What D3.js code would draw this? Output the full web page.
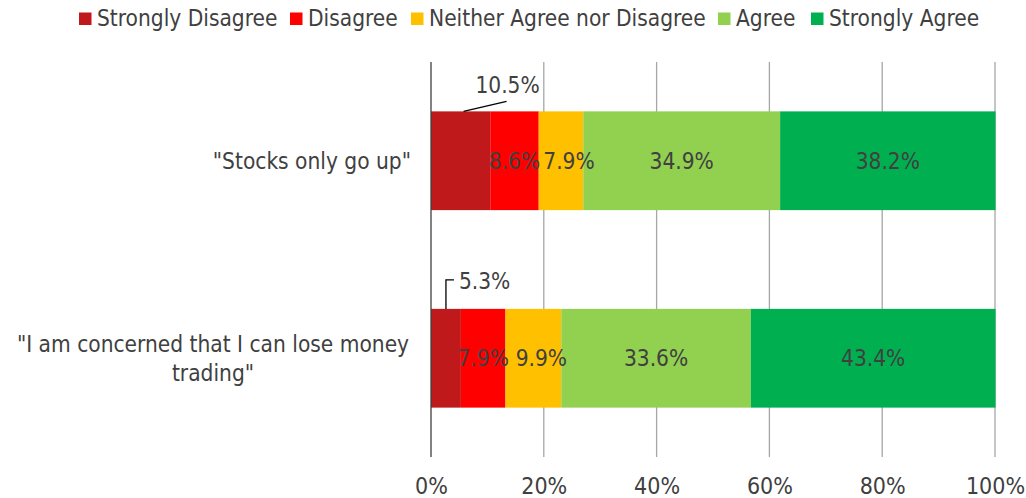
<!DOCTYPE html>
<html><head><meta charset="utf-8">
<script src="https://cdn.jsdelivr.net/npm/d3@7"></script>
<style>body{margin:0;background:#fff}svg{display:block}text{font-family:"DejaVu Sans Condensed","DejaVu Sans",sans-serif;fill:#404040}</style>
</head><body><svg id="c" width="1026" height="498"></svg>
<script>
const categories = ['"Stocks only go up"', '"I am concerned that I can lose money trading"'];
const categoryLines = [['"Stocks only go up"'], ['"I am concerned that I can lose money', 'trading"']];
const seriesNames = ["Strongly Disagree", "Disagree", "Neither Agree nor Disagree", "Agree", "Strongly Agree"];
const stronglyDisagree = [10.5, 5.3];
const disagree = [8.6, 7.9];
const neither = [7.9, 9.9];
const agree = [34.9, 33.6];
const stronglyAgree = [38.2, 43.4];
const colors = ["#C0191C", "#FF0000", "#FFC000", "#92D050", "#00B050"];
const xTicks = [0, 20, 40, 60, 80, 100];

const svg = d3.select("#c");
const W = 1026, H = 498;
const m = {l: 431, r: W - 995, t: 62, b: H - 457};
const x = d3.scaleLinear().domain([0, 100]).range([m.l, W - m.r]);
const y = d3.scaleBand().domain(categories).range([m.t, H - m.b]).paddingInner(0.5).paddingOuter(0.25);
const FS = 22.5;

const seriesVals = [stronglyDisagree, disagree, neither, agree, stronglyAgree];
const rows = categories.map((c, i) => {
  const o = {cat: c};
  seriesNames.forEach((s, j) => o[s] = seriesVals[j][i]);
  return o;
});
const stacked = d3.stack().keys(seriesNames)(rows);

// gridlines
svg.append("g").selectAll("line").data(xTicks.slice(1)).join("line")
  .attr("x1", d => x(d)).attr("x2", d => x(d))
  .attr("y1", m.t).attr("y2", H - m.b)
  .attr("stroke", "#A6A6A6").attr("stroke-width", 1.3);

// bars
const layers = svg.append("g").selectAll("g").data(stacked).join("g")
  .attr("fill", (d, i) => colors[i]);
layers.selectAll("rect").data(d => d).join("rect")
  .attr("x", d => x(d[0])).attr("width", d => x(d[1]) - x(d[0]))
  .attr("y", d => y(d.data.cat)).attr("height", y.bandwidth());

// axis line
svg.append("line").attr("x1", x(0)).attr("x2", x(0)).attr("y1", m.t).attr("y2", H - m.b)
  .attr("stroke", "#404040").attr("stroke-width", 1.3);

// x tick labels
const xa = d3.axisBottom(x).tickValues(xTicks).tickFormat(d => d + "%").tickSize(0).tickPadding(0);
const gx = svg.append("g").attr("transform", `translate(0,${H - m.b + 29})`).call(xa);
gx.select(".domain").remove();
gx.selectAll("text").attr("font-size", 23).attr("dy", "0.36em").attr("fill", "#404040")
  .style("font-family", '"DejaVu Sans Condensed","DejaVu Sans",sans-serif');

// category labels
categories.forEach((c, i) => {
  const lines = categoryLines[i];
  const cy = y(c) + y.bandwidth() / 2;
  const lh = 29;
  const t = svg.append("text").attr("font-size", FS);
  if (lines.length === 1) {
    t.attr("text-anchor", "end").attr("x", 411).attr("y", cy).attr("dy", "0.35em").text(lines[0]);
  } else {
    const cx = 213;
    lines.forEach((ln, k) => {
      t.append("tspan").attr("text-anchor", "middle").attr("x", cx)
        .attr("y", cy + (k - (lines.length - 1) / 2) * lh).attr("dy", "0.35em").text(ln);
    });
  }
});

// data labels
stacked.forEach((layer, j) => {
  layer.forEach((d, i) => {
    const v = d[1] - d[0];
    const cy = y(d.data.cat) + y.bandwidth() / 2;
    if (j === 0) {
      const top = y(d.data.cat);
      if (i === 0) {
        const sx = x(d[0] + v * 0.55);
        svg.append("path").attr("d", `M${sx},${top} L${sx + 43},${top - 10}`)
          .attr("stroke", "#000").attr("stroke-width", 1.3).attr("fill", "none");
        svg.append("text").attr("x", sx + 44).attr("y", top - 26).attr("text-anchor", "middle")
          .attr("dy", "0.35em").attr("font-size", FS).text(v.toFixed(1) + "%");
      } else {
        const lx = x(d[0] + v * 0.5);
        svg.append("path").attr("d", `M${lx},${top} L${lx},${top - 29} L${lx + 8},${top - 29}`)
          .attr("stroke", "#000").attr("stroke-width", 1.3).attr("fill", "none");
        svg.append("text").attr("x", lx + 13).attr("y", top - 28).attr("text-anchor", "start")
          .attr("dy", "0.35em").attr("font-size", FS).text(v.toFixed(1) + "%");
      }
    } else {
      const shift = j === 2 ? 8 : 0;
      svg.append("text").attr("x", x((d[0] + d[1]) / 2) + shift).attr("y", cy).attr("text-anchor", "middle")
        .attr("dy", "0.35em").attr("font-size", FS).text(v.toFixed(1) + "%");
    }
  });
});

// legend
const legX = [79, 290, 411, 718, 811];
const lg = svg.append("g");
seriesNames.forEach((s, i) => {
  lg.append("rect").attr("x", legX[i]).attr("y", 12.5).attr("width", 12.5).attr("height", 12.5).attr("fill", colors[i]);
  lg.append("text").attr("x", legX[i] + 18).attr("y", 18.5).attr("dy", "0.35em").attr("font-size", FS).text(s);
});
</script></body></html>
